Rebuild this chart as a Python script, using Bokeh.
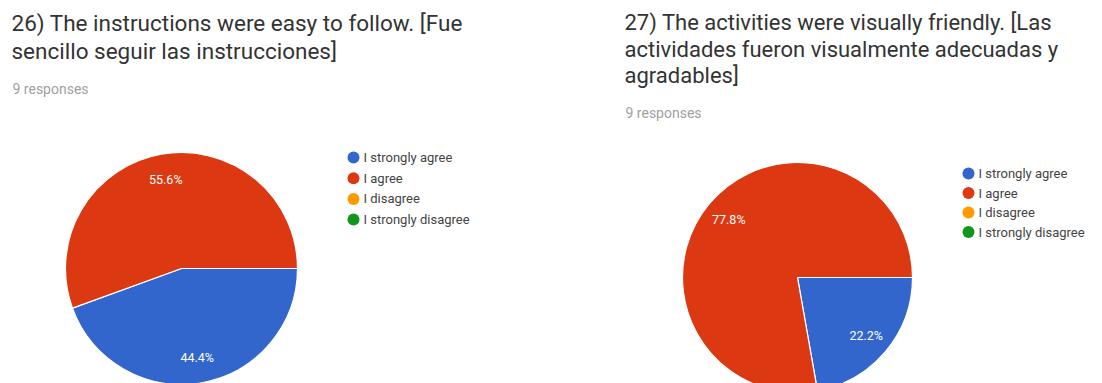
import math
from bokeh.plotting import figure
from bokeh.models import Range1d
from bokeh.core.properties import value
from bokeh.embed import file_html
from bokeh.resources import INLINE

W, H = 1102, 383

categories = ["I strongly agree", "I agree", "I disagree", "I strongly disagree"]
colors = ["#3366cc", "#dc3912", "#ff9900", "#109618"]
counts_26 = [4, 5, 0, 0]
counts_27 = [2, 7, 0, 0]
title_26 = ["26) The instructions were easy to follow. [Fue",
            "sencillo seguir las instrucciones]"]
title_27 = ["27) The activities were visually friendly. [Las",
            "actividades fueron visualmente adecuadas y",
            "agradables]"]
responses_text = "9 responses"

p = figure(width=W, height=H, output_backend="svg", toolbar_location=None,
           x_range=Range1d(0, W), y_range=Range1d(0, H), min_border=0)
p.axis.visible = False
p.grid.visible = False
p.outline_line_color = None
p.background_fill_color = "white"
p.border_fill_color = "white"

FONT = value("Roboto")


def Y(pix):
    return H - pix


def panel(x0, title_lines, counts, cx, cy, r, leg_x, leg_y0, leg_dy,
          cy0, line_h, resp_y, title_size):
    # title
    yy = cy0
    for line in title_lines:
        p.text(x=[x0], y=[Y(yy)], text=[line], text_font=FONT,
               text_font_size=title_size, text_color="#333333",
               text_baseline="middle", text_align="left")
        yy += line_h
    p.text(x=[x0 + 1], y=[Y(resp_y)], text=[responses_text],
           text_font=FONT, text_font_size="14px", text_color="#a0a0a0",
           text_baseline="middle", text_align="left")
    # pie, clockwise from 3 o'clock
    total = sum(counts)
    cum = 0.0
    for c, col in zip(counts, colors):
        if c == 0:
            continue
        a0 = cum / total * 2 * math.pi
        cum += c
        a1 = cum / total * 2 * math.pi
        p.wedge(x=[cx], y=[Y(cy)], radius=r, start_angle=-a1, end_angle=-a0,
                direction="anticlock", fill_color=col, line_color="white",
                line_width=1.2)
    cum = 0.0
    for c in counts:
        if c == 0:
            continue
        mid = (cum + c / 2) / total * 2 * math.pi
        cum += c
        lx = cx + math.cos(mid) * r * 0.78
        ly = cy + math.sin(mid) * r * 0.78
        p.text(x=[lx], y=[Y(ly)], text=["%.1f%%" % (100 * c / total)],
               text_font=FONT, text_font_size="12.5px", text_color="white",
               text_align="center", text_baseline="middle")
    # legend
    for i, (cat, col) in enumerate(zip(categories, colors)):
        yy = leg_y0 + i * leg_dy
        p.scatter(x=[leg_x], y=[Y(yy)], size=12, marker="circle",
                  fill_color=col, line_color=None)
        p.text(x=[leg_x + 10], y=[Y(yy)], text=[cat], text_font=FONT,
               text_font_size="13px", text_color="#444444",
               text_align="left", text_baseline="middle")


panel(11, title_26, counts_26, 181, 268, 116, 353, 157, 20.7,
      22, 28.5, 88, "22.5px")
panel(624, title_27, counts_27, 797, 277, 115, 968, 173, 19.5,
      22, 26.5, 112, "22px")

open("out.html", "w").write(file_html(p, INLINE))
